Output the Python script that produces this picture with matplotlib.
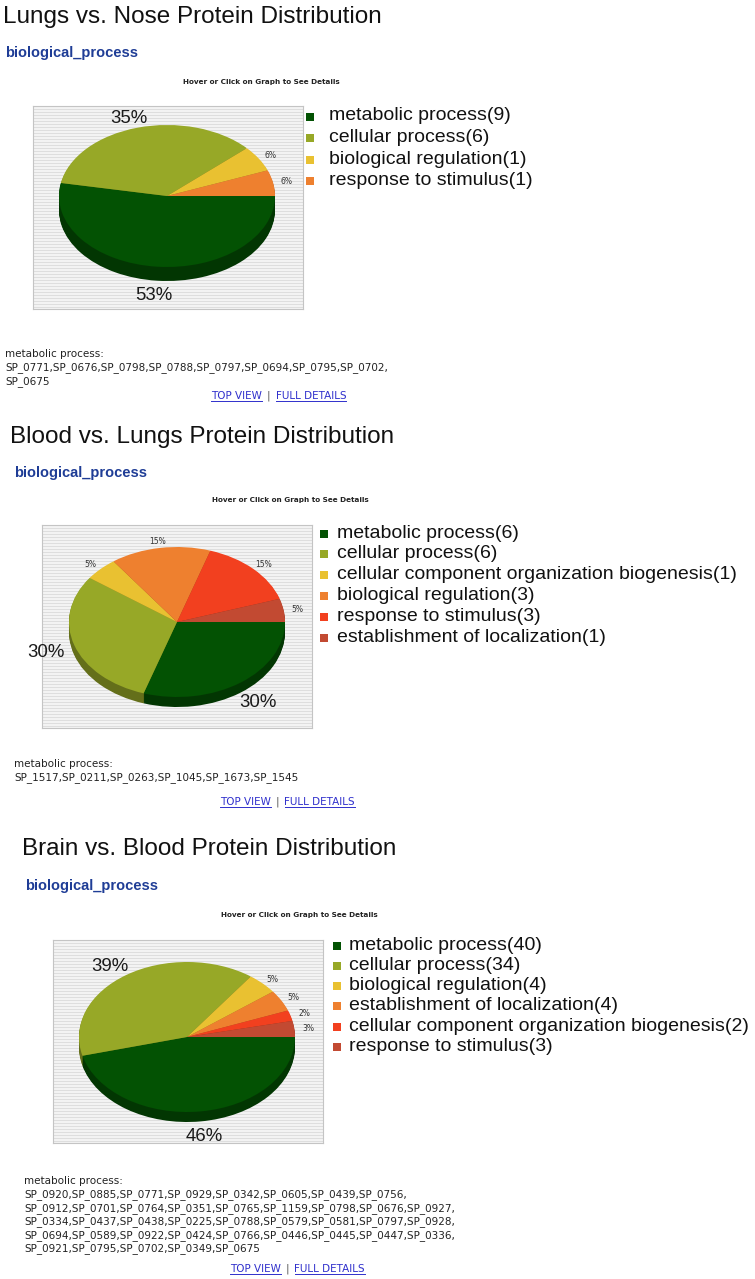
import matplotlib
matplotlib.use("Agg")
import matplotlib.pyplot as plt
import numpy as np
from matplotlib.patches import Rectangle
from matplotlib.colors import to_rgb

W, H = 755, 1279
ARIAL = "Liberation Sans"
LINK = "#2f2fcc"
BLUE = "#1f3d96"
COLORS = ["#035203", "#97a827", "#e9c131", "#ee802f", "#f2401f", "#c24a32"]

titles = ["Lungs vs. Nose Protein Distribution",
          "Blood vs. Lungs Protein Distribution",
          "Brain vs. Blood Protein Distribution"]

cats_1 = ["metabolic process", "cellular process", "biological regulation",
          "response to stimulus"]
counts_1 = [9, 6, 1, 1]

cats_2 = ["metabolic process", "cellular process",
          "cellular component organization biogenesis", "biological regulation",
          "response to stimulus", "establishment of localization"]
counts_2 = [6, 6, 1, 3, 3, 1]

cats_3 = ["metabolic process", "cellular process", "biological regulation",
          "establishment of localization",
          "cellular component organization biogenesis", "response to stimulus"]
counts_3 = [40, 34, 4, 4, 2, 3]

ids_1 = ["SP_0771", "SP_0676", "SP_0798", "SP_0788", "SP_0797", "SP_0694",
         "SP_0795", "SP_0702", "SP_0675"]
ids_2 = ["SP_1517", "SP_0211", "SP_0263", "SP_1045", "SP_1673", "SP_1545"]
ids_3 = ["SP_0920", "SP_0885", "SP_0771", "SP_0929", "SP_0342", "SP_0605",
         "SP_0439", "SP_0756",
         "SP_0912", "SP_0701", "SP_0764", "SP_0351", "SP_0765", "SP_1159",
         "SP_0798", "SP_0676", "SP_0927",
         "SP_0334", "SP_0437", "SP_0438", "SP_0225", "SP_0788", "SP_0579",
         "SP_0581", "SP_0797", "SP_0928",
         "SP_0694", "SP_0589", "SP_0922", "SP_0424", "SP_0766", "SP_0446",
         "SP_0445", "SP_0447", "SP_0336",
         "SP_0921", "SP_0795", "SP_0702", "SP_0349", "SP_0675"]

# pixel layout of each panel (y measured from the top)
layouts = [
    dict(title=(3, 23), sub=(5, 57), hover=(261, 82), box=(33, 106),
         pie=(167, 196), ry=71, depth=14, leg=(306, 329, 116, 21.6),
         txt=(5, 354), links=(211, 396), chunks=[8, 1]),
    dict(title=(10, 443), sub=(14, 477), hover=(290, 500), box=(42, 525),
         pie=(177, 622), ry=75, depth=10, leg=(320, 337, 533, 20.8),
         txt=(14, 764), links=(220, 802), chunks=[6]),
    dict(title=(22, 855), sub=(25, 890), hover=(299, 915), box=(53, 940),
         pie=(187, 1037), ry=75, depth=10, leg=(333, 349, 945, 20.3),
         txt=(24, 1181), links=(230, 1269), chunks=[8, 9, 9, 9, 5]),
]

plt.rcParams["font.family"] = "DejaVu Sans"
fig = plt.figure(figsize=(W / 100, H / 100), dpi=100)
fig.patch.set_facecolor("white")

ov = fig.add_axes([0, 0, 1, 1])
ov.set_xlim(0, W)
ov.set_ylim(H, 0)
ov.axis("off")
ov.set_zorder(3)
renderer = fig.canvas.get_renderer()


def draw_pie(counts, lay):
    x0, y0 = lay["box"]
    bw, bh = 270, 203
    cx, cy = lay["pie"]
    rx, ry, depth = 108, lay["ry"], lay["depth"]
    rect = [x0 / W, 1 - (y0 + bh) / H, bw / W, bh / H]

    bg = fig.add_axes(rect)
    stripes = np.where(np.arange(bh) % 3 == 0, 0.87, 0.955)[:, None]
    bg.imshow(stripes, cmap="gray", vmin=0, vmax=1, aspect="auto",
              interpolation="nearest")
    bg.set_xticks([])
    bg.set_yticks([])
    for s in bg.spines.values():
        s.set_color("#c4c4c4")
        s.set_linewidth(0.8)

    ax = fig.add_axes(rect, facecolor="none")
    ax.set_zorder(2)
    cols = COLORS[:len(counts)]
    dark = [tuple(v * 0.66 for v in to_rgb(c)) for c in cols]
    for k in range(depth, 0, -1):
        ax.pie(counts, colors=dark, startangle=0, counterclock=False,
               center=(0, -k / ry), wedgeprops=dict(linewidth=0))
    wedges, _ = ax.pie(counts, colors=cols, startangle=0, counterclock=False,
                       wedgeprops=dict(linewidth=0))
    ax.set_aspect("auto")
    ax.set_xlim(-(cx - x0) / rx, (x0 + bw - cx) / rx)
    ax.set_ylim(-(y0 + bh - cy) / ry, (cy - y0) / ry)
    ax.axis("off")

    total = sum(counts)
    for w, n in zip(wedges, counts):
        pct = round(100 * n / total)
        th = np.deg2rad((w.theta1 + w.theta2) / 2)
        if pct >= 25:
            lx = 1 + 30 / rx
            ly = 1 + (10 if np.sin(th) > 0 else depth + 15) / ry
            ax.text(lx * np.cos(th), ly * np.sin(th), f"{pct}%", ha="center",
                    va="center", fontsize=13.4, family=ARIAL, color="#1a1a1a")
        else:
            lx = 1 + 14 / rx
            ly = 1 + 6 / ry
            ax.text(lx * np.cos(th), ly * np.sin(th), f"{pct}%", ha="center",
                    va="center", fontsize=5.5, color="#333333")
    return cols


def link_row(x, y):
    t1 = ov.text(x, y, "TOP VIEW", color=LINK, fontsize=7.5, va="center")
    w1 = t1.get_window_extent(renderer).width
    ov.plot([x, x + w1], [y + 5, y + 5], color=LINK, lw=0.7)
    xb = x + w1 + 5
    tb = ov.text(xb, y, "|", color="#555555", fontsize=7.5, va="center")
    x2 = xb + tb.get_window_extent(renderer).width + 5
    t2 = ov.text(x2, y, "FULL DETAILS", color=LINK, fontsize=7.5, va="center")
    w2 = t2.get_window_extent(renderer).width
    ov.plot([x2, x2 + w2], [y + 5, y + 5], color=LINK, lw=0.7)


panels = [(cats_1, counts_1, ids_1), (cats_2, counts_2, ids_2),
          (cats_3, counts_3, ids_3)]

for title, (cats, counts, ids), lay in zip(titles, panels, layouts):
    ov.text(*lay["title"], title, fontsize=17.5, family=ARIAL, va="baseline",
            color="#111111")
    ov.text(*lay["sub"], "biological_process", fontsize=10.5, family=ARIAL,
            fontweight="bold", color=BLUE, va="baseline")
    ov.text(*lay["hover"], "Hover or Click on Graph to See Details",
            fontsize=5.2, fontweight="bold", ha="center", va="center",
            color="#222222")

    cols = draw_pie(counts, lay)

    sx, tx, ly0, pitch = lay["leg"]
    for i, (cat, n) in enumerate(zip(cats, counts)):
        yy = ly0 + i * pitch
        ov.add_patch(Rectangle((sx, yy - 3.5), 8, 8, color=cols[i], lw=0))
        ov.text(tx, yy, f"{cat}({n})", fontsize=14.0, family=ARIAL,
                va="center", color="#111111")

    # protein list under the chart
    lines = ["metabolic process:"]
    pos = 0
    for j, c in enumerate(lay["chunks"]):
        part = ",".join(ids[pos:pos + c])
        pos += c
        if j < len(lay["chunks"]) - 1:
            part += ","
        lines.append(part)
    tx0, ty0 = lay["txt"]
    for j, line in enumerate(lines):
        ov.text(tx0, ty0 + j * 13.6, line, fontsize=7.5, va="center",
                color="#222222")

    link_row(*lay["links"])

fig.savefig("out.png", dpi=100, facecolor="white")
